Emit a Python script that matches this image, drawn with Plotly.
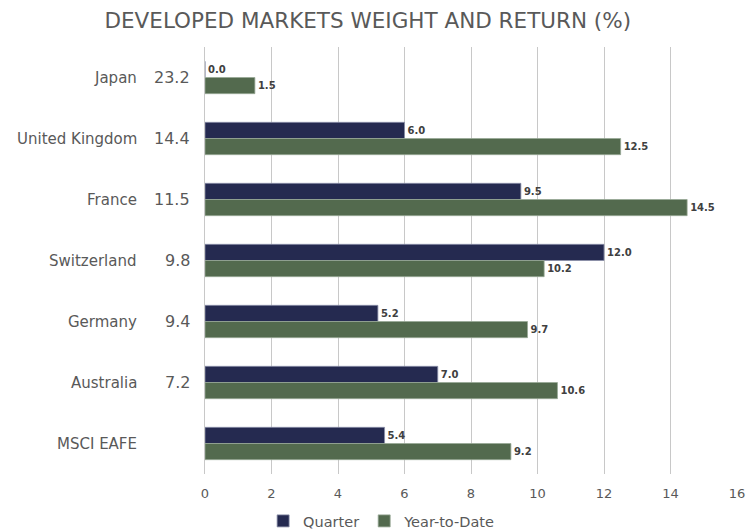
import plotly.graph_objects as go

countries = ["Japan", "United Kingdom", "France", "Switzerland", "Germany", "Australia", "MSCI EAFE"]
weights = ["23.2", "14.4", "11.5", "9.8", "9.4", "7.2", ""]
quarter = [0.0, 6.0, 9.5, 12.0, 5.2, 7.0, 5.4]
ytd = [1.5, 12.5, 14.5, 10.2, 9.7, 10.6, 9.2]
x_ticks = [0, 2, 4, 6, 8, 10, 12, 14, 16]

navy = "#252A50"
green = "#536A4E"
gray = "#595959"
font = "DejaVu Sans"

fig = go.Figure()
fig.add_trace(go.Bar(
    y=countries, x=quarter, name="Quarter", orientation="h",
    marker=dict(color=navy, line=dict(color="#8a8fa8", width=0.8)),
    texttemplate="<b>%{x:.1f}</b>", textposition="outside",
    textfont=dict(family=font, size=10, color="#404040"),
    cliponaxis=False,
))
fig.add_trace(go.Bar(
    y=countries, x=ytd, name="Year-to-Date", orientation="h",
    marker=dict(color=green, line=dict(color="#98a895", width=0.8)),
    texttemplate="<b>%{x:.1f}</b>", textposition="outside",
    textfont=dict(family=font, size=10, color="#404040"),
    cliponaxis=False,
))

for c, w in zip(countries, weights):
    fig.add_annotation(x=-0.124, xref="paper", y=c, yref="y", text=c,
                       xanchor="right", showarrow=False,
                       font=dict(family=font, size=15, color=gray))
    if w:
        fig.add_annotation(x=-0.024, xref="paper", y=c, yref="y", text=w,
                           xanchor="right", showarrow=False,
                           font=dict(family=font, size=16, color=gray))

fig.update_layout(
    width=746, height=532,
    margin=dict(l=205, r=9, t=47, b=58, autoexpand=False),
    paper_bgcolor="white", plot_bgcolor="white",
    barmode="group", bargap=0.47, bargroupgap=0,
    title=dict(text="DEVELOPED MARKETS WEIGHT AND RETURN (%)", x=0.493, xref="container",
               xanchor="center", y=0.962, yanchor="middle",
               font=dict(family=font, size=21.5, color=gray)),
    xaxis=dict(range=[0, 16], tickvals=x_ticks, showgrid=True, gridcolor="#C8C8C8",
               gridwidth=1, zeroline=False, showline=False,
               tickfont=dict(family=font, size=13, color=gray), ticks="",
               ticklabelstandoff=10),
    yaxis=dict(autorange="reversed", showticklabels=False, showgrid=False,
               showline=True, linecolor="#C8C8C8", ticks=""),
    legend=dict(orientation="h", x=0.332, xanchor="center", y=-0.11, yanchor="middle",
                font=dict(family=font, size=14.5, color=gray), itemwidth=30,
                traceorder="normal"),
    showlegend=True,
)

fig.write_html(
    "out.html",
    config={"displayModeBar": False},
    post_script="document.body.style.margin='0';document.body.style.overflow='hidden';",
)
